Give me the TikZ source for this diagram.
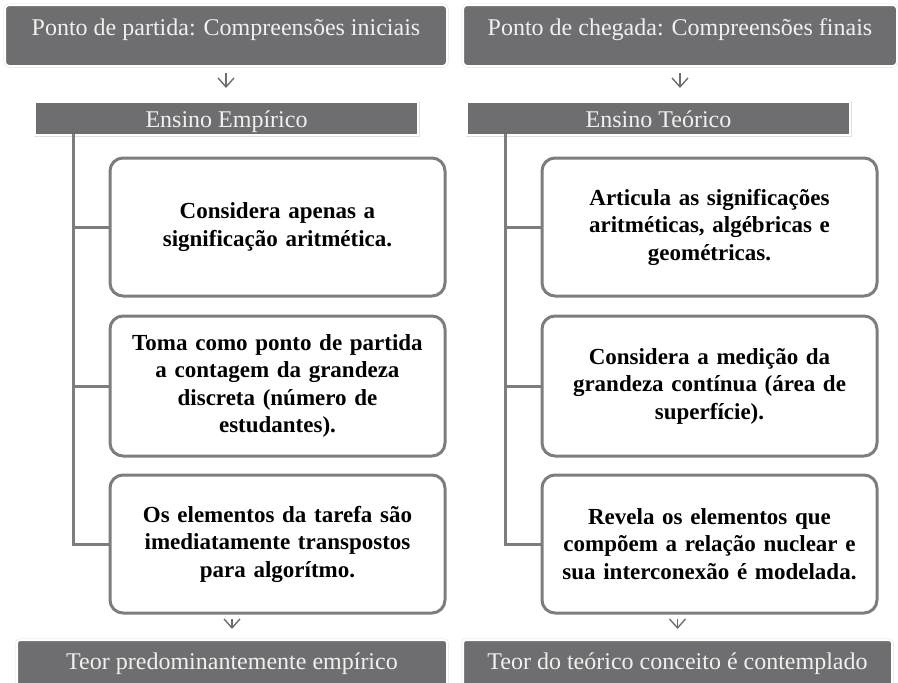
\documentclass[tikz,border=0pt]{standalone}
\usepackage{fontspec}
\setmainfont{Liberation Serif}
\usepackage{tikz}
\usetikzlibrary{arrows.meta}

\definecolor{barfill}{RGB}{110,110,112}
\definecolor{boxline}{RGB}{125,125,127}

\begin{document}
\begin{tikzpicture}[x=1pt, y=-1pt,
	bar/.style={preaction={draw=black!12, line width=3pt}, draw=white, line width=2pt,
		fill=barfill, text=white!94!black, inner sep=0pt, font=\fontsize{24}{28}\selectfont},
	tallbar/.style={bar, rounded corners=4pt, minimum width=442pt, text height=26pt, text depth=27pt, inner ysep=4pt},
	endbar/.style={bar, rounded corners=3pt, text height=25pt, text depth=19pt, inner ysep=4pt},
	midbar/.style={bar, minimum width=383pt, minimum height=33pt, text height=20pt, text depth=3pt},
	card/.style={draw=boxline, line width=3pt, rounded corners=13pt, fill=white,
		minimum width=335pt, text width=325pt, align=center, inner sep=0pt,
		font=\bfseries\fontsize{23}{27.5}\selectfont},
	arr/.style={draw=barfill, line width=1.4pt, -{Straight Barb[length=9pt, width=16pt]}},
	trunk/.style={draw=boxline, line width=3pt}]
 			%%%	Help Lines
% 			\draw [thin, help lines, step=50] (0,0) grid (898,683);
 			\useasboundingbox (0,0) rectangle (898,683);
 			%%%	Empirico
 			\node[tallbar] (pp) at (226,35.5) {Ponto de partida: Compreensões iniciais};
 			\node[midbar] (ee) at (226.5,118.5) {Ensino Empírico};
 			\node[card, minimum height=138pt] (eb1) at (277.5,227) {Considera apenas a\\ significação aritmética.};
 			\node[card, minimum height=140pt] (eb2) at (277.5,386) {Toma como ponto de partida\\ a contagem da grandeza\\ discreta (número de\\ estudantes).};
 			\node[card, minimum height=138pt] (eb3) at (277.5,544) {Os elementos da tarefa são\\ imediatamente transpostos\\ para algorítmo.};
 			\node[endbar, minimum width=430pt] (ef) at (232,666) {Teor predominantemente empírico};
 			%%%	Teorico
 			\node[tallbar, minimum width=434pt] (pc) at (680,35.5) {Ponto de chegada: Compreensões finais};
 			\node[midbar] (et) at (658.5,118.5) {Ensino Teórico};
 			\node[card, minimum height=138pt] (tb1) at (709.5,227) {Articula as significações\\ aritméticas, algébricas e\\ geométricas.};
 			\node[card, minimum height=140pt] (tb2) at (709.5,386) {Considera a medição da\\ grandeza contínua (área de\\ superfície).};
 			\node[card, minimum height=138pt] (tb3) at (709.5,544) {Revela os elementos que\\ compõem a relação nuclear e\\ sua interconexão é modelada.};
 			\node[endbar, minimum width=429pt] (tf) at (677.5,666) {Teor do teórico conceito é contemplado};
 			%%%	Setas
 			\draw[arr, shorten <=6pt, shorten >=13pt] (pp.south) -- (pp.south |- ee.north);
 			\draw[arr, shorten <=6pt, shorten >=13pt] (pc.south) -- (pc.south |- et.north);
 			\draw[arr, shorten <=4pt, shorten >=10pt] (ef.north |- eb3.south) -- (ef.north);
 			\draw[arr, shorten <=4pt, shorten >=10pt] (tf.north |- tb3.south) -- (tf.north);
 			%%%	Ramos
 			\coordinate (el) at (73,134);
 			\coordinate (tl) at (505,134);
 			\draw[trunk] (el) |- (eb3.west);
 			\draw[trunk] (el |- eb1.west) -- (eb1.west);
 			\draw[trunk] (el |- eb2.west) -- (eb2.west);
 			\draw[trunk] (tl) |- (tb3.west);
 			\draw[trunk] (tl |- tb1.west) -- (tb1.west);
 			\draw[trunk] (tl |- tb2.west) -- (tb2.west);
\end{tikzpicture}
\end{document}
